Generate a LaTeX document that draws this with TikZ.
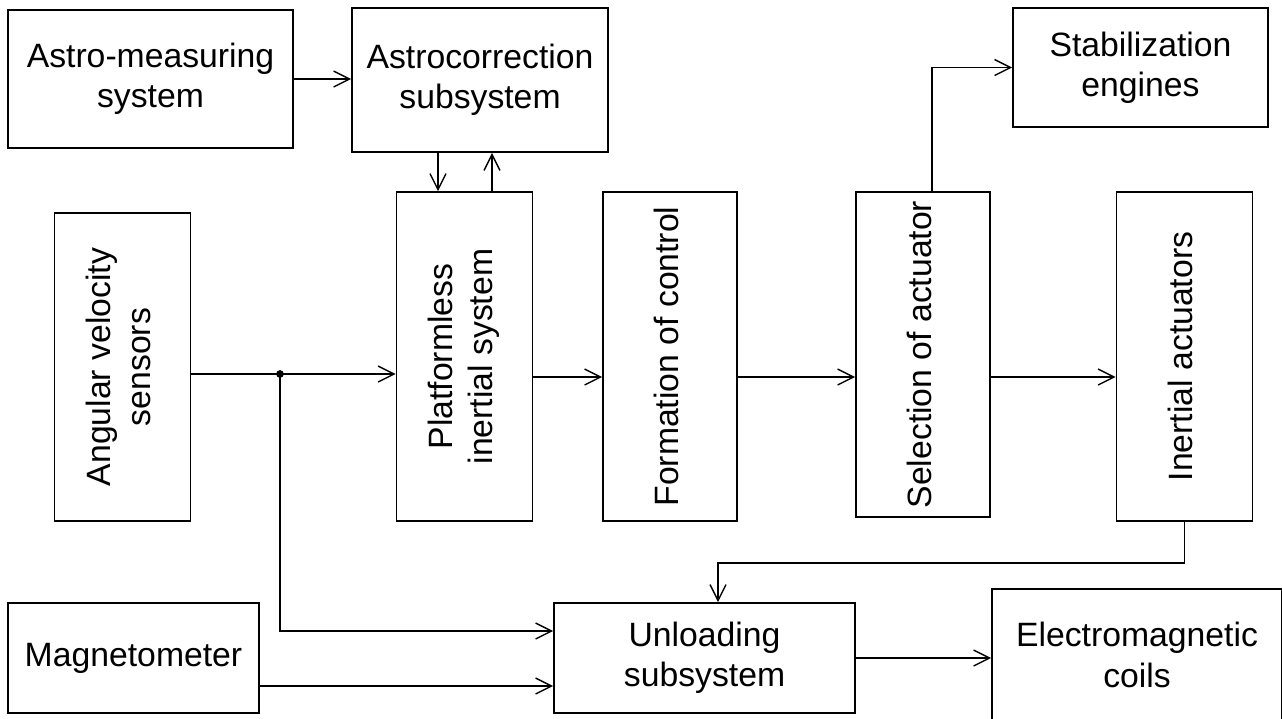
\documentclass[tikz,border=0pt]{standalone}
\usepackage{fontspec}
\setmainfont{Liberation Sans}
\usetikzlibrary{arrows.meta}
\newcommand{\uptext}[1]{\rotatebox{90}{\begin{tabular}{@{}c@{}}#1\end{tabular}}}

\begin{document}
\begin{tikzpicture}[x=0.02cm, y=-0.02cm,
  box/.style={draw, line width=1pt, align=center, inner sep=0pt,
    font=\fontsize{19.2}{23}\selectfont},
  vbox/.style={box, minimum width=2.72cm},
  arr/.style={-{Straight Barb[length=3.2mm, width=3.2mm, line width=0.8pt]}, line width=0.8pt}]
\useasboundingbox (0,0) rectangle (1282,718);
\clip (0,0) rectangle (1282,718);

\node[box, minimum width=5.7cm, minimum height=2.76cm] (meas) at (150.5,79) {Astro-measuring\\system};
\node[box, minimum width=5.12cm, minimum height=2.88cm] (corr) at (480,80) {Astrocorrection\\subsystem};
\node[box, minimum width=5.1cm, minimum height=2.38cm] (stab) at (1140.5,67.5) {Stabilization\\engines};

\node[vbox, minimum height=6.16cm] (avs) at (122.5,367) {\uptext{Angular velocity\\sensors}};
\node[vbox, minimum height=6.58cm] (pis) at (464.5,356.5) {\uptext{Platformless\\inertial system}};
\node[vbox, minimum height=6.58cm, minimum width=2.68cm] (form) at (670,356.5) {\uptext{Formation of control}};
\node[vbox, minimum height=6.5cm, minimum width=2.68cm] (sel) at (923,354.5) {\uptext{Selection of actuator}};
\node[vbox, minimum height=6.58cm] (inert) at (1184.5,356.5) {\uptext{Inertial actuators}};

\node[box, minimum width=5.02cm, minimum height=2.2cm] (mag) at (133.5,658) {Magnetometer};
\node[box, minimum width=6.02cm, minimum height=2.2cm] (unl) at (704.5,658) {Unloading\\subsystem};
\node[box, minimum width=5.8cm, minimum height=2.64cm] (coils) at (1137,655) {Electromagnetic\\coils};

% helper points
\coordinate (tap) at (280,374);
\coordinate (row) at (0,377);
\coordinate (dn) at ([xshift=-0.53cm]pis.north);
\coordinate (up) at ([xshift=0.55cm]pis.north);
\coordinate (in1) at (0,631);
\coordinate (in2) at (0,686);
\coordinate (fb) at ([xshift=0.27cm]unl.north);

\draw[arr] (meas.east) -- (meas.east -| corr.west);
\draw[arr] (dn |- corr.south) -- (dn);
\draw[arr] (up) -- (up |- corr.south);

\draw[line width=0.8pt] (avs.east |- tap) -- (tap);
\draw[arr] (tap) -- (tap -| pis.west);
\fill (tap) circle (2.2pt);
\draw[arr] (tap) |- (in1 -| unl.west);
\draw[arr] (in2 -| mag.east) -- (in2 -| unl.west);

\draw[arr] (row -| pis.east) -- (row -| form.west);
\draw[arr] (row -| form.east) -- (row -| sel.west);
\draw[arr] (row -| sel.east) -- (row -| inert.west);

\draw[arr] ([xshift=0.18cm]sel.north) |- (stab.west);
\draw[arr] (inert.south) -- ++(0,41) -| (fb);
\draw[arr] (unl.east) -- (unl.east -| coils.west);
\end{tikzpicture}
\end{document}
